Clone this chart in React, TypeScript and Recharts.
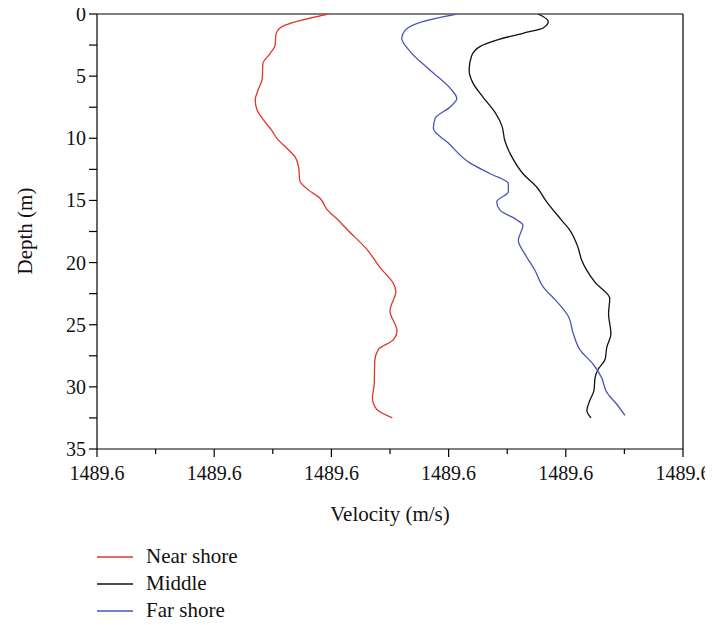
import React from 'react'
import { LineChart, Line, XAxis, YAxis, ReferenceLine, Label } from 'recharts'

// depth (m), sound velocity (m/s)
const nearShore: [number, number][] = [
  [0, 1489.59975], [0.9, 1489.59605], [1.35, 1489.5954], [1.8, 1489.59525],
  [2.5, 1489.5952], [3.2, 1489.59475], [4.0, 1489.59415], [5.2, 1489.5941],
  [6.1, 1489.59375], [6.9, 1489.5935], [7.7, 1489.59365], [8.7, 1489.59435],
  [9.35, 1489.5949], [10.0, 1489.59535], [10.8, 1489.5962], [11.5, 1489.5969],
  [12.3, 1489.5972], [13.4, 1489.5973], [14.05, 1489.5979], [14.85, 1489.59905],
  [15.7, 1489.5996], [16.6, 1489.6006], [17.3, 1489.6013], [18.9, 1489.603],
  [20.4, 1489.60415], [21.7, 1489.6053], [22.3, 1489.6055], [23.9, 1489.605],
  [25.5, 1489.6056], [26.2, 1489.6053], [27.0, 1489.604], [27.9, 1489.6037],
  [29.8, 1489.60365], [30.9, 1489.6035], [31.8, 1489.60385], [32.5, 1489.6052],
]

const middle: [number, number][] = [
  [0, 1489.61765], [0.6, 1489.6185], [1.1, 1489.6181], [1.55, 1489.61635],
  [2.1, 1489.6141], [2.6, 1489.6127], [3.4, 1489.61195], [4.5, 1489.61175],
  [5.5, 1489.61205], [6.7, 1489.61295], [7.9, 1489.61395], [9.0, 1489.61455],
  [10.2, 1489.6148], [11.5, 1489.6154], [12.85, 1489.61635], [13.9, 1489.6175],
  [15.1, 1489.61835], [16.6, 1489.61965], [17.4, 1489.62035], [18.8, 1489.62105],
  [19.8, 1489.62135], [21.6, 1489.6225], [22.9, 1489.62375], [24.1, 1489.62365],
  [25.75, 1489.62385], [26.8, 1489.6235], [27.8, 1489.62335], [28.6, 1489.62275],
  [29.25, 1489.6225], [30.3, 1489.6224], [31.1, 1489.62205], [31.9, 1489.6218],
  [32.5, 1489.62215],
]

const farShore: [number, number][] = [
  [0, 1489.6107], [0.6, 1489.60785], [1.3, 1489.6063], [1.95, 1489.606],
  [3.0, 1489.6067], [4.5, 1489.6084], [6.1, 1489.61025], [6.8, 1489.6107],
  [7.5, 1489.6101], [8.4, 1489.60885], [9.2, 1489.6087], [10.4, 1489.61],
  [12.0, 1489.61185], [12.85, 1489.61355], [13.65, 1489.6151], [14.3, 1489.6151],
  [15.1, 1489.6141], [15.8, 1489.6144], [16.55, 1489.6158], [17.0, 1489.61635],
  [18.2, 1489.61595], [19.3, 1489.6165], [20.6, 1489.61735], [22.0, 1489.6181],
  [23.1, 1489.6192], [24.3, 1489.6202], [25.75, 1489.62065], [27.0, 1489.6212],
  [28.2, 1489.62235], [29.25, 1489.62305], [30.45, 1489.6235], [31.4, 1489.62435],
  [32.3, 1489.62505],
]

const depthTicks = [0, 2.5, 5, 7.5, 10, 12.5, 15, 17.5, 20, 22.5, 25, 27.5, 30, 32.5, 35]
const velocityTicks = [
  1489.58, 1489.585, 1489.59, 1489.595, 1489.6, 1489.605,
  1489.61, 1489.615, 1489.62, 1489.625, 1489.63,
]

const series = [
  { name: 'Near shore', color: '#e2352b', points: nearShore },
  { name: 'Middle', color: '#111111', points: middle },
  { name: 'Far shore', color: '#4b55b5', points: farShore },
]

const FONT = '"Liberation Serif", "DejaVu Serif", serif'
const TICK = 8
const MARGIN = 2

const toRows = (pts: [number, number][]) => pts.map(([depth, velocity]) => ({ depth, velocity }))

// every other tick is a labelled major tick, the rest are minor
function DepthTick(props: any) {
  const { x, y, payload, index } = props
  const axisX = x + TICK + MARGIN
  const major = index % 2 === 0
  return (
    <g>
      <line x1={axisX - TICK} x2={axisX} y1={y} y2={y} stroke="#000" strokeWidth={1.2} />
      {major && (
        <text x={axisX - TICK - 3} y={y} dy="0.35em" textAnchor="end" fontFamily={FONT} fontSize={20} fill="#111">
          {payload.value}
        </text>
      )}
    </g>
  )
}

function VelocityTick(props: any) {
  const { x, y, payload, index } = props
  const axisY = y - TICK - MARGIN
  const major = index % 2 === 0
  return (
    <g>
      <line x1={x} x2={x} y1={axisY} y2={axisY + (major ? TICK : 5)} stroke="#000" strokeWidth={1.2} />
      {major && (
        <text x={x} y={axisY + 15} dy="0.8em" textAnchor="middle" fontFamily={FONT} fontSize={20} fill="#111">
          {Number(payload.value).toFixed(1)}
        </text>
      )}
    </g>
  )
}

export default function App() {
  return (
    // pulled over the body margin so edge labels are not clipped
    <div style={{ position: 'relative', width: 713, height: 625, margin: '-8px 0 0 -8px', fontFamily: FONT }}>
      <LineChart
        layout="vertical"
        width={713}
        height={538}
        margin={{ top: 14, right: 30, bottom: 0, left: 8 }}
      >
        <XAxis
          type="number"
          dataKey="velocity"
          domain={[1489.58, 1489.63]}
          ticks={velocityTicks}
          interval={0}
          allowDataOverflow
          height={89}
          tickSize={TICK}
          tickMargin={MARGIN}
          tickLine={false}
          axisLine={{ stroke: '#000', strokeWidth: 1.2 }}
          tick={<VelocityTick />}
        >
          <Label
            content={() => (
              <text x={390} y={514} textAnchor="middle" dominantBaseline="central" fontFamily={FONT} fontSize={21} fill="#111">
                Velocity (m/s)
              </text>
            )}
          />
        </XAxis>
        <YAxis
          type="number"
          dataKey="depth"
          domain={[0, 35]}
          ticks={depthTicks}
          interval={0}
          allowDataOverflow
          width={89}
          tickSize={TICK}
          tickMargin={MARGIN}
          tickLine={false}
          axisLine={{ stroke: '#000', strokeWidth: 1.2 }}
          tick={<DepthTick />}
        >
          <Label
            content={() => (
              <text
                transform="translate(25,231) rotate(-90)"
                textAnchor="middle"
                dominantBaseline="central"
                fontFamily={FONT}
                fontSize={21}
                fill="#111"
              >
                Depth (m)
              </text>
            )}
          />
        </YAxis>
        <ReferenceLine y={0} stroke="#000" strokeWidth={1.2} />
        <ReferenceLine x={1489.63} stroke="#000" strokeWidth={1.2} />
        {series.map((s) => (
          <Line
            key={s.name}
            name={s.name}
            data={toRows(s.points)}
            dataKey="velocity"
            type="monotone"
            stroke={s.color}
            strokeWidth={1.3}
            dot={false}
            isAnimationActive={false}
          />
        ))}
      </LineChart>
      <div style={{ position: 'absolute', left: 97, top: 543 }}>
        {series.map((s) => (
          <div key={s.name} style={{ display: 'flex', alignItems: 'center', height: 27 }}>
            <svg width={36} height={4} style={{ marginRight: 13 }}>
              <line x1={0} x2={36} y1={2} y2={2} stroke={s.color} strokeWidth={1.3} />
            </svg>
            <span style={{ fontSize: 21, color: '#111', lineHeight: '27px' }}>{s.name}</span>
          </div>
        ))}
      </div>
    </div>
  )
}
